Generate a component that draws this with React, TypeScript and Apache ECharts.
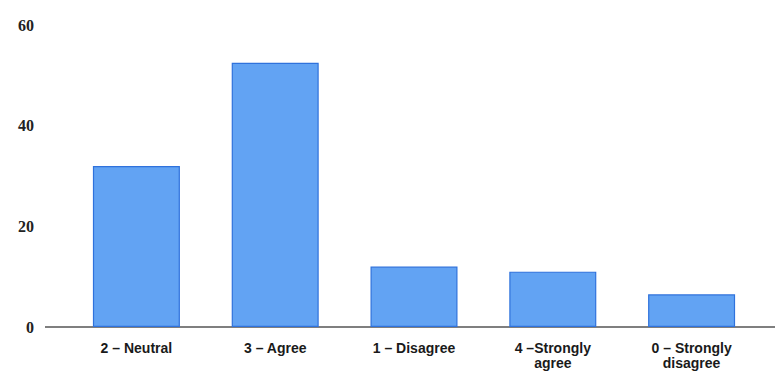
import React, { useEffect, useRef } from "react";
import * as echarts from "echarts";

const categories = [
  "2 – Neutral",
  "3 – Agree",
  "1 – Disagree",
  "4 –Strongly\nagree",
  "0 – Strongly\ndisagree",
];
const values = [32, 52.5, 12, 11, 6.5];
const yMin = 0;
const yMax = 60;
const yInterval = 20;

export default function App() {
  const ref = useRef<HTMLDivElement>(null);
  useEffect(() => {
    if (!ref.current) return;
    const chart = echarts.init(ref.current, undefined, { renderer: "svg" });
    chart.setOption({
      animation: false,
      backgroundColor: "#ffffff",
      grid: { left: 67, right: 14, top: 25, bottom: 44, containLabel: false },
      xAxis: {
        type: "category",
        data: categories,
        axisLine: { show: false },
        axisTick: { show: false },
        axisLabel: {
          interval: 0,
          margin: 13,
          color: "#1a1a1a",
          fontSize: 14,
          fontWeight: "bold",
          fontFamily: "Liberation Sans, Arial, sans-serif",
          lineHeight: 15,
        },
      },
      yAxis: {
        type: "value",
        min: yMin,
        max: yMax,
        interval: yInterval,
        axisLine: { show: false },
        axisTick: { show: false },
        splitLine: { show: false },
        axisLabel: {
          margin: 33,
          color: "#222",
          fontSize: 16,
          fontWeight: "bold",
          fontFamily: "Liberation Serif, Times New Roman, serif",
        },
      },
      graphic: [
        {
          type: "line",
          shape: { x1: 45, y1: 327, x2: 775, y2: 327 },
          style: { stroke: "#555", lineWidth: 1.5 },
          z: 0,
        },
      ],
      series: [
        {
          type: "bar",
          data: values,
          barWidth: 87,
          itemStyle: {
            color: "#62a3f3",
            borderColor: "#2f72dc",
            borderWidth: 1.2,
          },
          z: 2,
        },
      ],
    });
    return () => chart.dispose();
  }, []);
  return <div ref={ref} style={{ width: 775, height: 371, position: "absolute", left: 0, top: 0 }} />;
}
